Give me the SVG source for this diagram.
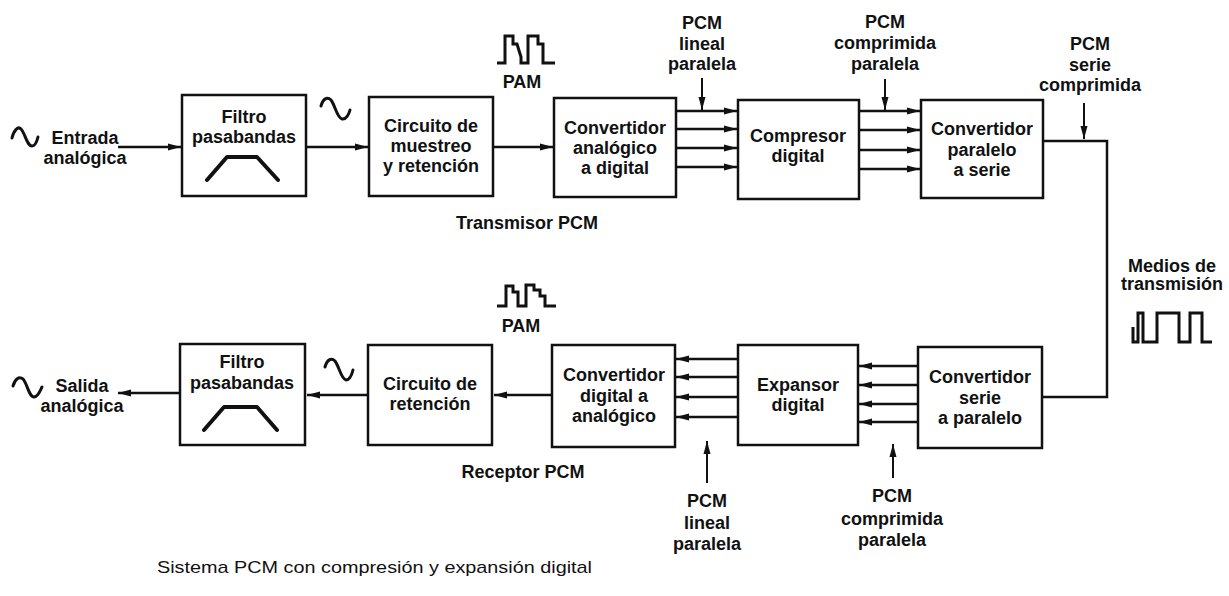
<svg xmlns="http://www.w3.org/2000/svg" width="1229" height="596" viewBox="0 0 1229 596">
<defs>
<style>
.box{fill:#fff;stroke:#111;stroke-width:2.5}
.ln{fill:none;stroke:#111;stroke-width:2.5}
.thin{fill:none;stroke:#111;stroke-width:2}
.sym{fill:none;stroke:#111;stroke-width:3;stroke-linejoin:miter}
.wave{fill:none;stroke:#111;stroke-width:3;stroke-linecap:round}
.trap{fill:none;stroke:#111;stroke-width:4;stroke-linecap:round;stroke-linejoin:round}
text{font-family:"Liberation Sans",Arial,sans-serif;font-size:18px;font-weight:bold;fill:#111;text-anchor:middle}
.cap{font-weight:normal;font-size:17px;text-anchor:start}
</style>
<marker id="ah" markerUnits="userSpaceOnUse" markerWidth="14" markerHeight="8" refX="13" refY="4" orient="auto">
<path d="M0,0.5 L13,4 L0,7.5 z" fill="#111"/>
</marker>
</defs>
<rect width="1229" height="596" fill="#fff"/>

<g id="connectors">
<path class="ln" d="M118,147 H181" marker-end="url(#ah)"/>
<path class="ln" d="M306,147 H368" marker-end="url(#ah)"/>
<path class="ln" d="M493,147 H553" marker-end="url(#ah)"/>
<path class="ln" d="M676,111 H737" marker-end="url(#ah)"/>
<path class="ln" d="M676,129 H737" marker-end="url(#ah)"/>
<path class="ln" d="M676,148 H737" marker-end="url(#ah)"/>
<path class="ln" d="M676,167 H737" marker-end="url(#ah)"/>
<path class="ln" d="M859,111 H920" marker-end="url(#ah)"/>
<path class="ln" d="M859,130 H920" marker-end="url(#ah)"/>
<path class="ln" d="M859,150 H920" marker-end="url(#ah)"/>
<path class="ln" d="M859,169 H920" marker-end="url(#ah)"/>
<path class="ln" d="M1043,141 H1107 V397 H1042"/>
<path class="thin" d="M702,78 V110" marker-end="url(#ah)"/>
<path class="thin" d="M885,79 V110" marker-end="url(#ah)"/>
<path class="thin" d="M1084,103 V139" marker-end="url(#ah)"/>
<path class="ln" d="M918,366 H859" marker-end="url(#ah)"/>
<path class="ln" d="M918,385 H859" marker-end="url(#ah)"/>
<path class="ln" d="M918,404 H859" marker-end="url(#ah)"/>
<path class="ln" d="M918,422 H859" marker-end="url(#ah)"/>
<path class="ln" d="M738,359 H676" marker-end="url(#ah)"/>
<path class="ln" d="M738,377 H676" marker-end="url(#ah)"/>
<path class="ln" d="M738,397 H676" marker-end="url(#ah)"/>
<path class="ln" d="M738,417 H676" marker-end="url(#ah)"/>
<path class="ln" d="M552,395 H494" marker-end="url(#ah)"/>
<path class="ln" d="M368,395 H307" marker-end="url(#ah)"/>
<path class="ln" d="M180,393 H118" marker-end="url(#ah)"/>
<path class="thin" d="M707,483 V441" marker-end="url(#ah)"/>
<path class="thin" d="M893,478 V444" marker-end="url(#ah)"/>
</g>

<g id="in-label">
<path class="wave" d="M12,138 C14,130 18,126 21,129 C25,133 27,146 32,146 C35,146 37,141 38,137"/>
<text x="85" y="144">Entrada</text>
<text x="85" y="164">analógica</text>
</g>

<g id="tx-filter">
<rect class="box" x="182" y="95" width="124" height="101"/>
<text x="244" y="123">Filtro</text>
<text x="244" y="143">pasabandas</text>
<path class="trap" d="M207,180 L227,157 L257,157 L278,180"/>
</g>
<path id="wave-tx" class="wave" d="M321,106 C323,99 327,96 331,100 C335,105 337,118 342,119 C346,120 349,114 350,110"/>

<g id="tx-sh">
<rect class="box" x="369" y="97" width="124" height="99"/>
<text x="431" y="132">Circuito de</text>
<text x="431" y="152">muestreo</text>
<text x="431" y="172">y retención</text>
</g>

<g id="pam-tx">
<path class="sym" d="M497,63 H505 V36 H513 V44 H517 L521,57 V63 H528 V36 H538 V44 H543 V63 H555"/>
<text x="522" y="88">PAM</text>
</g>

<g id="adc">
<rect class="box" x="554" y="98" width="122" height="99"/>
<text x="615" y="134">Convertidor</text>
<text x="615" y="154">analógico</text>
<text x="615" y="174">a digital</text>
</g>

<g id="lbl-lineal-tx">
<text x="702" y="29">PCM</text>
<text x="702" y="50">lineal</text>
<text x="702" y="70">paralela</text>
</g>

<g id="compressor">
<rect class="box" x="738" y="100" width="121" height="99"/>
<text x="798" y="142">Compresor</text>
<text x="798" y="162">digital</text>
</g>

<g id="lbl-comp-tx">
<text x="885" y="28">PCM</text>
<text x="885" y="49">comprimida</text>
<text x="885" y="70">paralela</text>
</g>

<g id="p2s">
<rect class="box" x="921" y="100" width="122" height="98"/>
<text x="982" y="135">Convertidor</text>
<text x="982" y="156">paralelo</text>
<text x="982" y="176">a serie</text>
</g>

<g id="lbl-serie">
<text x="1090" y="50">PCM</text>
<text x="1090" y="71">serie</text>
<text x="1090" y="91">comprimida</text>
</g>

<text id="tx-title" x="527" y="229">Transmisor PCM</text>

<g id="medium">
<text x="1172" y="272">Medios de</text>
<text x="1172" y="290">transmisión</text>
<path class="sym" d="M1133,327 V342 H1138 V313 H1143 V342 H1157 V313 H1179 V342 H1190 V313 H1202 V342 H1212"/>
</g>

<g id="s2p">
<rect class="box" x="918" y="347" width="124" height="101"/>
<text x="980" y="383">Convertidor</text>
<text x="980" y="404">serie</text>
<text x="980" y="424">a paralelo</text>
</g>

<g id="lbl-comp-rx">
<text x="892" y="502">PCM</text>
<text x="892" y="525">comprimida</text>
<text x="892" y="546">paralela</text>
</g>

<g id="expander">
<rect class="box" x="738" y="345" width="120" height="100"/>
<text x="798" y="391">Expansor</text>
<text x="798" y="411">digital</text>
</g>

<g id="lbl-lineal-rx">
<text x="707" y="507">PCM</text>
<text x="707" y="529">lineal</text>
<text x="707" y="550">paralela</text>
</g>

<g id="dac">
<rect class="box" x="552" y="345" width="123" height="102"/>
<text x="614" y="381">Convertidor</text>
<text x="614" y="402">digital a</text>
<text x="614" y="422">analógico</text>
</g>

<g id="pam-rx">
<path class="sym" d="M497,306 H506 V286 H513 V292 H518 V306 H526 V285 H534 V290 H540 V296 H545 V306 H556"/>
<text x="521" y="332">PAM</text>
</g>

<text id="rx-title" x="523" y="478">Receptor PCM</text>

<g id="rx-hold">
<rect class="box" x="368" y="345" width="124" height="100"/>
<text x="430" y="390">Circuito de</text>
<text x="430" y="410">retención</text>
</g>
<path id="wave-rx" class="wave" d="M325,367 C327,360 331,357 335,361 C339,366 341,379 346,380 C350,380 352,374 353,370"/>

<g id="rx-filter">
<rect class="box" x="180" y="344" width="125" height="101"/>
<text x="242" y="368">Filtro</text>
<text x="242" y="389">pasabandas</text>
<path class="trap" d="M204,430 L224,407 L257,407 L277,430"/>
</g>

<g id="out-label">
<path class="wave" d="M13,386 C15,379 19,376 23,379 C27,383 29,397 34,397 C38,397 40,391 42,387"/>
<text x="82" y="392">Salida</text>
<text x="82" y="412">analógica</text>
</g>

<text id="caption" class="cap" x="157" y="573" textLength="435" lengthAdjust="spacingAndGlyphs">Sistema PCM con compresión y expansión digital</text>
</svg>
